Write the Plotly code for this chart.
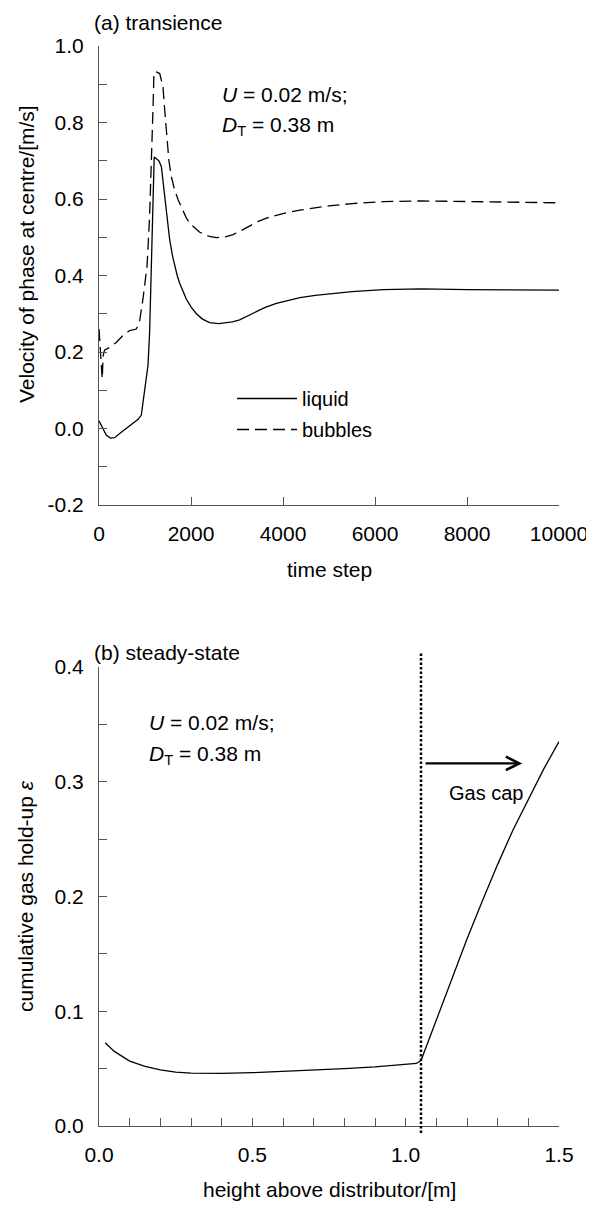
import plotly.graph_objects as go

# ---------------- Panel (a): transience ----------------
liquid_t = [0, 40, 100, 160, 250, 340, 450, 590, 740, 850, 920, 970, 1015, 1065, 1100,
            1140, 1175, 1200, 1245, 1300, 1355, 1405, 1465, 1536, 1600, 1645, 1700,
            1754, 1820, 1900, 2000, 2116, 2250, 2405, 2600, 2768, 2900, 3058, 3200,
            3348, 3600, 3855, 4100, 4370, 4700, 5000, 5500, 6175, 7000, 8000, 9000, 10000]
liquid_v = [0.02, 0.01, -0.005, -0.018, -0.025, -0.024, -0.013, 0.0, 0.016, 0.024,
            0.035, 0.078, 0.13, 0.165, 0.25, 0.425, 0.60, 0.71, 0.705, 0.70, 0.685,
            0.633, 0.564, 0.494, 0.45, 0.425, 0.40, 0.38, 0.36, 0.338, 0.318, 0.30,
            0.286, 0.277, 0.274, 0.276, 0.279, 0.284, 0.292, 0.302, 0.316, 0.327,
            0.335, 0.342, 0.348, 0.352, 0.358, 0.363, 0.365, 0.363, 0.362, 0.362]

bubbles_t = [0, 25, 50, 70, 90, 120, 230, 375, 520, 665, 810, 880, 955, 1045, 1100,
             1140, 1175, 1195, 1245, 1320, 1390, 1430, 1465, 1520, 1570, 1640, 1720,
             1800, 1900, 2000, 2190, 2400, 2550, 2750, 2915, 3100, 3275, 3450, 3640,
             4000, 4370, 4700, 5000, 5500, 6175, 7000, 8500, 10000]
bubbles_v = [0.26, 0.20, 0.17, 0.13, 0.19, 0.205, 0.212, 0.225, 0.243, 0.256, 0.26,
             0.278, 0.338, 0.425, 0.555, 0.685, 0.84, 0.932, 0.932, 0.928, 0.894, 0.83,
             0.772, 0.70, 0.66, 0.625, 0.598, 0.575, 0.55, 0.533, 0.513, 0.502, 0.499,
             0.501, 0.507, 0.518, 0.53, 0.541, 0.55, 0.562, 0.571, 0.577, 0.582, 0.588,
             0.593, 0.595, 0.593, 0.59]

top_x_ticks = [0, 2000, 4000, 6000, 8000, 10000]
top_x_labels = ["0", "2000", "4000", "6000", "8000", "10000"]
top_y_ticks = [-0.2, 0.0, 0.2, 0.4, 0.6, 0.8, 1.0]
top_y_labels = ["-0.2", "0.0", "0.2", "0.4", "0.6", "0.8", "1.0"]

# ---------------- Panel (b): steady-state ----------------
height_m = [0.02, 0.05, 0.1, 0.15, 0.2, 0.25, 0.3, 0.4, 0.5, 0.6, 0.7, 0.8, 0.9, 1.0,
            1.035, 1.05, 1.1, 1.15, 1.2, 1.25, 1.3, 1.35, 1.4, 1.45, 1.5]
holdup = [0.0725, 0.065, 0.0565, 0.052, 0.049, 0.047, 0.046, 0.0458, 0.0465, 0.0475,
          0.0487, 0.05, 0.0515, 0.0535, 0.0545, 0.057, 0.092, 0.128, 0.163, 0.196,
          0.228, 0.258, 0.285, 0.311, 0.335]
bottom_x_ticks = [0.0, 0.5, 1.0, 1.5]
bottom_x_labels = ["0.0", "0.5", "1.0", "1.5"]
bottom_y_ticks = [0.0, 0.1, 0.2, 0.3, 0.4]
bottom_y_labels = ["0.0", "0.1", "0.2", "0.3", "0.4"]
gas_cap_start = 1.05
gas_cap_arrow_x = [1.06, 1.38]
gas_cap_arrow_y = 0.316

FONT = "Liberation Sans, Arial, sans-serif"
AX = "#555555"
W, H = 594, 1207
OFF = 8               # default page body margin


def px_x(p):
    return (p - OFF) / W


def px_y(p):
    return 1 - (p - OFF) / H


fig = go.Figure()
fig.add_trace(go.Scatter(x=liquid_t, y=liquid_v, mode="lines", name="liquid",
                         line=dict(color="black", width=1.3),
                         xaxis="x", yaxis="y", legendgroup="a"))
fig.add_trace(go.Scatter(x=bubbles_t, y=bubbles_v, mode="lines", name="bubbles",
                         line=dict(color="black", width=1.3, dash="12px,6px"),
                         xaxis="x", yaxis="y", legendgroup="b"))
fig.add_trace(go.Scatter(x=height_m, y=holdup, mode="lines", showlegend=False,
                         line=dict(color="black", width=1.3),
                         xaxis="x2", yaxis="y2"))

axis_common = dict(showline=True, linecolor=AX, linewidth=1, ticks="inside",
                   tickcolor=AX, tickwidth=1, ticklen=8, showgrid=False,
                   zeroline=False, automargin=False,
                   tickfont=dict(family=FONT, size=21, color="black"),
                   ticklabelstandoff=10, tickmode="array")

fig.update_layout(
    template="none",
    width=W, height=H,
    margin=dict(l=0, r=0, t=0, b=0, autoexpand=False),
    paper_bgcolor="white", plot_bgcolor="white",
    font=dict(family=FONT, size=21, color="black"),
    xaxis=dict(domain=[px_x(99), px_x(559)], anchor="y", range=[0, 10000],
               tickvals=top_x_ticks, ticktext=top_x_labels, **axis_common),
    yaxis=dict(domain=[px_y(505), px_y(46)], anchor="x", range=[-0.2, 1.0],
               tickvals=top_y_ticks, ticktext=top_y_labels,
               minor=dict(dtick=0.1, ticks="inside", ticklen=8, tickcolor=AX),
               **axis_common),
    xaxis2=dict(domain=[px_x(99), px_x(559)], anchor="y2", range=[0, 1.5],
                tickvals=bottom_x_ticks, ticktext=bottom_x_labels,
                minor=dict(dtick=0.1, ticks="inside", ticklen=8, tickcolor=AX),
                **axis_common),
    yaxis2=dict(domain=[px_y(1126), px_y(667)], anchor="x2", range=[0, 0.4],
                tickvals=bottom_y_ticks, ticktext=bottom_y_labels,
                minor=dict(dtick=0.05, ticks="inside", ticklen=8, tickcolor=AX),
                **axis_common),
    legend=dict(x=px_x(232), y=px_y(379), xanchor="left", yanchor="top",
                bgcolor="rgba(0,0,0,0)", font=dict(family=FONT, size=20),
                tracegroupgap=2, itemwidth=60),
    showlegend=True,
)

# vertical dotted line marking the gas cap
fig.add_shape(type="line", xref="x2", yref="y2 domain", x0=gas_cap_start,
              x1=gas_cap_start, y0=-0.015, y1=1.03,
              line=dict(color="black", width=2.5, dash="2.5px,2px"))

ann = []
ann.append(dict(text="(a) transience", xref="paper", yref="paper", x=px_x(92),
                y=px_y(22), xanchor="left", yanchor="middle", showarrow=False,
                font=dict(size=21)))
ann.append(dict(text="(b) steady-state", xref="paper", yref="paper", x=px_x(92),
                y=px_y(652), xanchor="left", yanchor="middle", showarrow=False,
                font=dict(size=21)))
ann.append(dict(text="Velocity of phase at centre/[m/s]", xref="paper", yref="paper",
                x=px_x(26), y=px_y(254), textangle=-90, showarrow=False,
                xanchor="center", yanchor="middle", font=dict(size=21)))
ann.append(dict(text="time step", xref="paper", yref="paper", x=px_x(329),
                y=px_y(569), showarrow=False, xanchor="center", yanchor="middle",
                font=dict(size=21)))
ann.append(dict(text="cumulative gas hold-up <i>ε</i>", xref="paper", yref="paper",
                x=px_x(25), y=px_y(896), textangle=-90, showarrow=False,
                xanchor="center", yanchor="middle", font=dict(size=21)))
ann.append(dict(text="height above distributor/[m]", xref="paper", yref="paper",
                x=px_x(329), y=px_y(1189), showarrow=False, xanchor="center",
                yanchor="middle", font=dict(size=21)))
ann.append(dict(text="<i>U</i> = 0.02 m/s;", xref="x", yref="y", x=2630, y=0.872,
                xanchor="left", yanchor="middle", showarrow=False, font=dict(size=21)))
ann.append(dict(text="<i>D</i><sub>T</sub> = 0.38 m", xref="x", yref="y", x=2630,
                y=0.79, xanchor="left", yanchor="middle", showarrow=False,
                font=dict(size=21)))
ann.append(dict(text="<i>U</i> = 0.02 m/s;", xref="x2", yref="y2", x=0.157, y=0.352,
                xanchor="left", yanchor="middle", showarrow=False, font=dict(size=21)))
ann.append(dict(text="<i>D</i><sub>T</sub> = 0.38 m", xref="x2", yref="y2", x=0.157,
                y=0.323, xanchor="left", yanchor="middle", showarrow=False,
                font=dict(size=21)))
ann.append(dict(text="", xref="x2", yref="y2", axref="x2", ayref="y2",
                x=gas_cap_arrow_x[1], y=gas_cap_arrow_y,
                ax=gas_cap_arrow_x[0], ay=gas_cap_arrow_y,
                showarrow=True, arrowhead=5, arrowsize=1.2, arrowwidth=2.2,
                arrowcolor="black", standoff=0, startstandoff=0))
ann.append(dict(text="Gas cap", xref="x2", yref="y2", x=1.263, y=0.29,
                xanchor="center", yanchor="middle", showarrow=False,
                font=dict(size=20)))
fig.update_layout(annotations=ann)

fig.write_html("out.html")
